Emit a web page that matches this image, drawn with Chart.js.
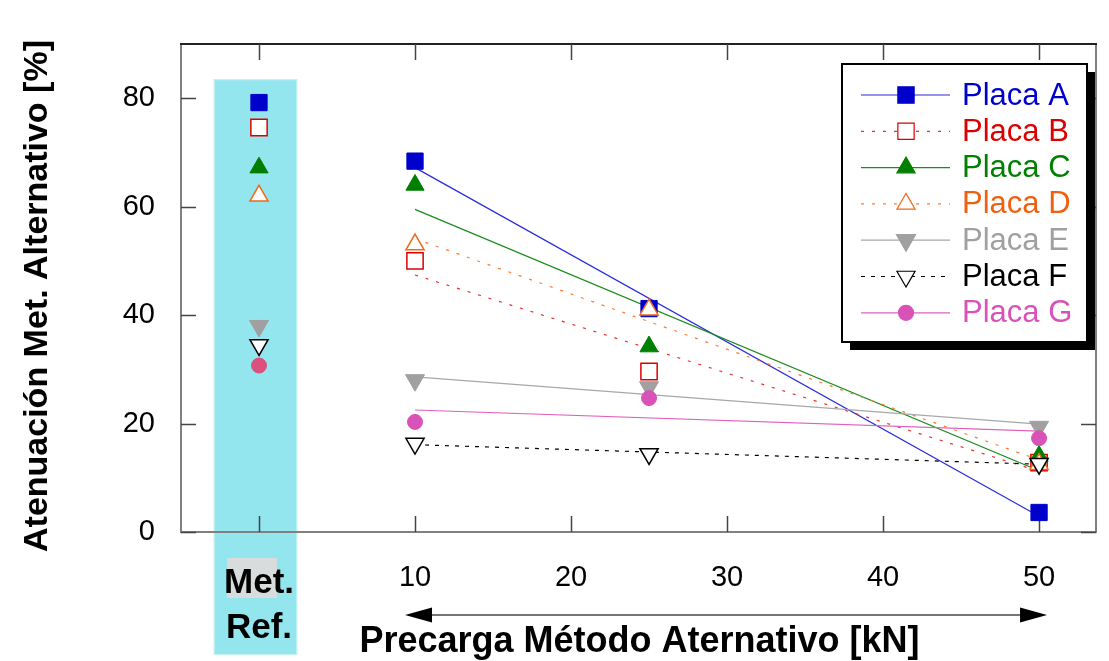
<!DOCTYPE html>
<html>
<head>
<meta charset="utf-8">
<script src="https://cdn.jsdelivr.net/npm/chart.js@4.4.0/dist/chart.umd.min.js"></script>
<style>
  html, body { margin: 0; padding: 0; background: #fff; }
  canvas { display: block; }
</style>
</head>
<body>
<canvas id="chart" width="1109" height="661"></canvas>
<script>
const FONT = "'Liberation Sans', Arial, sans-serif";

// x = 0 is the reference method, the rest are preload values in kN
const pointX = [0, 10, 25, 50];
const placaNames = ["Placa A", "Placa B", "Placa C", "Placa D", "Placa E", "Placa F", "Placa G"];
const placaA = [79.2, 68.4, 41.2, 3.6];
const placaB = [74.6, 50.0, 29.6, 12.8];
const placaC = [67.2, 64.0, 34.2, 14.0];
const placaD = [62.0, 53.0, 41.0, 12.5];
const placaE = [38.0, 28.0, 26.7, 19.4];
const placaF = [34.5, 16.3, 14.4, 12.6];
const placaG = [30.7, 20.3, 24.7, 17.3];

// linear trend lines, values at 10 kN and 50 kN
const trendX = [10, 50];
const trendA = [67.2, 2.9];
const trendB = [47.4, 11.2];
const trendC = [59.5, 11.3];
const trendD = [54.1, 13.3];
const trendE = [28.6, 19.9];
const trendF = [16.1, 12.5];
const trendG = [22.5, 18.6];

const xTicks = [0, 10, 20, 30, 40, 50];
const yTicks = [0, 20, 40, 60, 80];
const refLabel = ["Met.", "Ref."];
const xTitle = "Precarga Método Aternativo [kN]";
const yTitle = "Atenuación Met. Alternativo [%]";

const series = [placaA, placaB, placaC, placaD, placaE, placaF, placaG];
const trends = [trendA, trendB, trendC, trendD, trendE, trendF, trendG];

const styles = [
  { text: "#0000cc", line: "#2a2ae0", fill: "#0000cc", border: "#0000cc", shape: "rect", r: 11.5, rot: 0, dash: [] },
  { text: "#dd0000", line: "#e83030", fill: "#ffffff", border: "#dd0000", shape: "rect", r: 11.5, rot: 0, dash: [3, 8] },
  { text: "#007f00", line: "#1a8c1a", fill: "#007f00", border: "#007f00", shape: "triangle", r: 10.5, rot: 0, dash: [] },
  { text: "#f06010", line: "#ff7a30", fill: "#ffffff", border: "#f06a1a", shape: "triangle", r: 10.5, rot: 0, dash: [3, 8] },
  { text: "#a0a0a0", line: "#a8a8a8", fill: "#a0a0a0", border: "#a0a0a0", shape: "triangle", r: 11, rot: 180, dash: [] },
  { text: "#000000", line: "#000000", fill: "#ffffff", border: "#000000", shape: "triangle", r: 10.5, rot: 180, dash: [4, 6] },
  { text: "#d952b8", line: "#e060c0", fill: "#d952b8", border: "#d952b8", shape: "circle", r: 7.5, rot: 0, dash: [] },
];

const datasets = [];
series.forEach((vals, i) => {
  const st = styles[i];
  const fills = vals.map(() => st.fill);
  const borders = vals.map(() => st.border);
  if (i === 6) { fills[0] = "#dc5080"; borders[0] = "#dc5080"; }
  datasets.push({
    label: placaNames[i],
    data: vals.map((v, k) => ({ x: pointX[k], y: v })),
    showLine: false,
    pointStyle: st.shape,
    pointRadius: st.r,
    pointRotation: st.rot,
    pointBackgroundColor: fills,
    pointBorderColor: borders,
    pointBorderWidth: st.fill === "#ffffff" ? 1.5 : 1,
    order: 10 - i,
  });
});
trends.forEach((vals, i) => {
  const st = styles[i];
  datasets.push({
    label: placaNames[i] + " tendencia",
    data: vals.map((v, k) => ({ x: trendX[k], y: v })),
    showLine: true,
    borderColor: st.line,
    borderWidth: 1.2,
    borderDash: st.dash,
    pointRadius: 0,
    order: 30 - i,
  });
});

const decor = {
  id: "decor",
  beforeDraw(chart) {
    const { ctx, chartArea, scales } = chart;
    const x = scales.x, y = scales.y;
    const x0 = x.getPixelForValue(0);
    const left = x.getPixelForValue(-2.9);
    const right = x.getPixelForValue(2.45);
    const top = y.getPixelForValue(83.5);
    const bottom = chart.height - 6;
    ctx.save();
    ctx.fillStyle = "#93e6ee";
    ctx.fillRect(left, top, right - left, bottom - top);
    ctx.strokeStyle = "#c8f3f6";
    ctx.lineWidth = 1;
    ctx.strokeRect(left + 0.5, top + 0.5, right - left - 1, bottom - top - 1);
    ctx.fillStyle = "#d8dcdc";
    ctx.fillRect(x0 - 32, chartArea.bottom + 26, 50, 40);
    ctx.restore();
  },
  beforeDatasetsDraw(chart) {
    const { ctx, chartArea: a, scales } = chart;
    ctx.save();
    ctx.lineWidth = 2;
    ctx.strokeStyle = "#808080";
    ctx.beginPath();
    ctx.moveTo(a.left, a.top); ctx.lineTo(a.left, a.bottom);
    ctx.lineTo(a.right, a.bottom); ctx.lineTo(a.right, a.top);
    ctx.stroke();
    ctx.strokeStyle = "#222";
    ctx.beginPath();
    ctx.moveTo(a.left - 1, a.top); ctx.lineTo(a.right + 1, a.top);
    ctx.stroke();
    // inward tick marks on all four sides
    ctx.lineWidth = 1.5;
    ctx.strokeStyle = "#444";
    ctx.beginPath();
    xTicks.forEach((t) => {
      const px = Math.round(scales.x.getPixelForValue(t)) + 0.5;
      ctx.moveTo(px, a.bottom); ctx.lineTo(px, a.bottom - 16);
      ctx.moveTo(px, a.top); ctx.lineTo(px, a.top + 16);
    });
    yTicks.forEach((t) => {
      const py = Math.round(scales.y.getPixelForValue(t)) + 0.5;
      ctx.moveTo(a.left, py); ctx.lineTo(a.left + 15, py);
      ctx.moveTo(a.right, py); ctx.lineTo(a.right - 15, py);
    });
    ctx.stroke();
    ctx.restore();
  },
  afterDraw(chart) {
    const { ctx, chartArea: a, scales } = chart;
    ctx.save();

    // axis titles
    ctx.fillStyle = "#000";
    ctx.textAlign = "center";
    ctx.textBaseline = "alphabetic";
    ctx.font = "bold 36px " + FONT;
    ctx.fillText(xTitle, (a.left + a.right) / 2 + 1, chart.height - 9);
    ctx.font = "bold 34px " + FONT;
    ctx.save();
    ctx.translate(47, (a.top + a.bottom) / 2 + 8);
    ctx.rotate(-Math.PI / 2);
    ctx.fillText(yTitle, 0, 0);
    ctx.restore();

    // double arrow under the preload ticks
    const ax1 = scales.x.getPixelForValue(10) - 10;
    const ax2 = scales.x.getPixelForValue(50) + 8;
    const ay = a.bottom + 83;
    ctx.strokeStyle = "#777";
    ctx.lineWidth = 2;
    ctx.beginPath();
    ctx.moveTo(ax1 + 20, ay); ctx.lineTo(ax2 - 20, ay);
    ctx.stroke();
    ctx.fillStyle = "#000";
    ctx.beginPath();
    ctx.moveTo(ax1, ay); ctx.lineTo(ax1 + 27, ay - 7.5); ctx.lineTo(ax1 + 27, ay + 7.5); ctx.closePath();
    ctx.moveTo(ax2, ay); ctx.lineTo(ax2 - 27, ay - 7.5); ctx.lineTo(ax2 - 27, ay + 7.5); ctx.closePath();
    ctx.fill();

    // legend box with drop shadow
    const bw = 245, bh = 278;
    const bx = a.right - 254, by = a.top + 20;
    ctx.fillStyle = "#000";
    ctx.fillRect(bx + 8, by + 8, bw, bh);
    ctx.fillStyle = "#fff";
    ctx.fillRect(bx, by, bw, bh);
    ctx.strokeStyle = "#000";
    ctx.lineWidth = 2;
    ctx.strokeRect(bx, by, bw, bh);
    placaNames.forEach((name, i) => {
      const st = styles[i];
      const ry = by + 31 + i * 36.3;
      ctx.strokeStyle = st.line;
      ctx.lineWidth = 1.2;
      ctx.setLineDash(st.dash);
      ctx.beginPath();
      ctx.moveTo(bx + 19, ry); ctx.lineTo(bx + 108, ry);
      ctx.stroke();
      ctx.setLineDash([]);
      ctx.fillStyle = st.fill;
      ctx.strokeStyle = st.border;
      Chart.helpers.drawPoint(ctx, {
        pointStyle: st.shape, radius: st.r, rotation: st.rot,
        borderWidth: st.fill === "#ffffff" ? 1.5 : 1,
      }, bx + 64, ry);
      ctx.fillStyle = st.text;
      ctx.font = "31px " + FONT;
      ctx.textAlign = "left";
      ctx.textBaseline = "middle";
      ctx.fillText(name, bx + 120, ry + 1);
    });
    ctx.restore();
  },
};

new Chart(document.getElementById("chart"), {
  type: "scatter",
  data: { datasets },
  options: {
    responsive: false,
    animation: false,
    devicePixelRatio: 1,
    layout: { padding: { top: 44, right: 12, left: 0, bottom: 0 } },
    plugins: { legend: { display: false }, tooltip: { enabled: false } },
    scales: {
      x: {
        type: "linear",
        min: -5,
        max: 53.65,
        afterBuildTicks: (s) => { s.ticks = xTicks.map((v) => ({ value: v })); },
        afterFit: (s) => { s.height = 129; },
        grid: { display: false, drawTicks: false },
        border: { display: false },
        ticks: {
          padding: 29,
          color: "#000",
          autoSkip: false,
          maxRotation: 0,
          callback: (v) => (v === 0 ? refLabel : String(v)),
          font: (c) => (c.tick && c.tick.value === 0
            ? { family: FONT, size: 35, weight: "bold", lineHeight: 1.29 }
            : { family: FONT, size: 29 }),
        },
      },
      y: {
        type: "linear",
        min: 0,
        max: 90,
        afterBuildTicks: (s) => { s.ticks = yTicks.map((v) => ({ value: v })); },
        afterFit: (s) => { s.width = 181; },
        grid: { display: false, drawTicks: false },
        border: { display: false },
        ticks: { padding: 26, color: "#000", font: { family: FONT, size: 29 } },
      },
    },
  },
  plugins: [decor],
});
</script>
</body>
</html>
